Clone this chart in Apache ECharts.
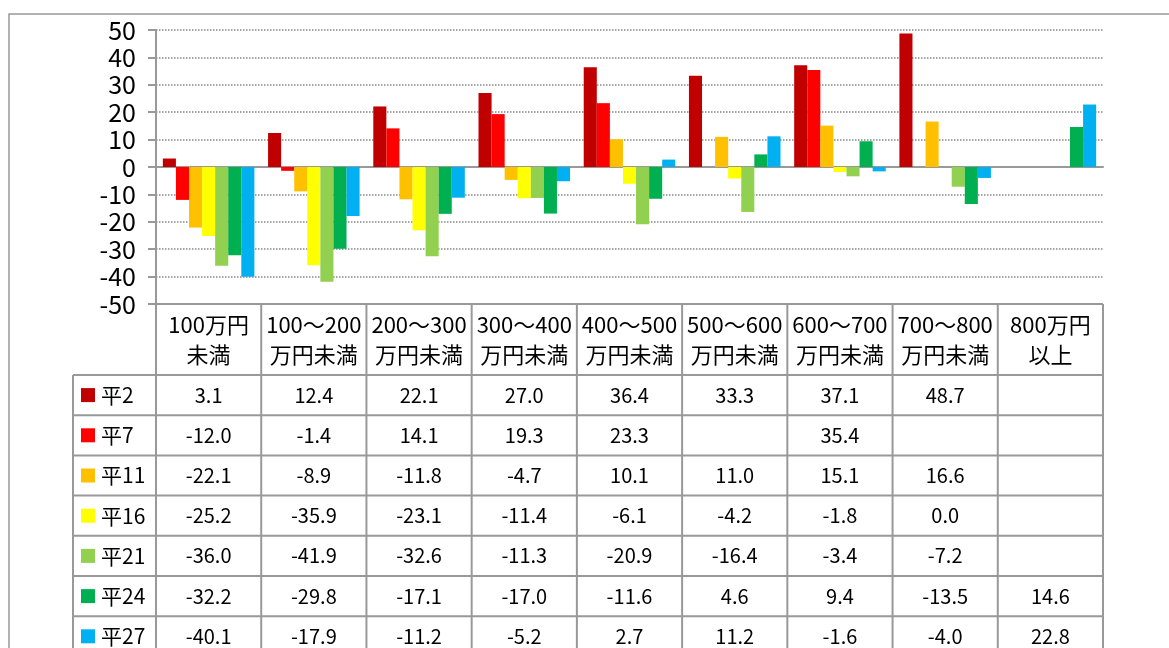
<!DOCTYPE html>
<html>
<head>
<meta charset="utf-8">
<script src="https://cdn.jsdelivr.net/npm/echarts@6/dist/echarts.min.js"></script>
<style>
  html, body { margin: 0; padding: 0; background: #fff; }
  #chart { width: 1169px; height: 648px; }
</style>
</head>
<body>
<div id="chart"></div>
<script>
// categories (income brackets) and one array per survey year
const categories = ['100万円\n未満', '100～200\n万円未満', '200～300\n万円未満', '300～400\n万円未満',
  '400～500\n万円未満', '500～600\n万円未満', '600～700\n万円未満', '700～800\n万円未満', '800万円\n以上'];
const seriesNames = ['平2', '平7', '平11', '平16', '平21', '平24', '平27'];
const seriesColors = ['#C00000', '#FF0000', '#FFC000', '#FFFF00', '#92D050', '#00B050', '#00B0F0'];

const h2  = [3.1, 12.4, 22.1, 27.0, 36.4, 33.3, 37.1, 48.7, null];
const h7  = [-12.0, -1.4, 14.1, 19.3, 23.3, null, 35.4, null, null];
const h11 = [-22.1, -8.9, -11.8, -4.7, 10.1, 11.0, 15.1, 16.6, null];
const h16 = [-25.2, -35.9, -23.1, -11.4, -6.1, -4.2, -1.8, 0.0, null];
const h21 = [-36.0, -41.9, -32.6, -11.3, -20.9, -16.4, -3.4, -7.2, null];
const h24 = [-32.2, -29.8, -17.1, -17.0, -11.6, 4.6, 9.4, -13.5, 14.6];
const h27 = [-40.1, -17.9, -11.2, -5.2, 2.7, 11.2, -1.6, -4.0, 22.8];
const seriesData = [h2, h7, h11, h16, h21, h24, h27];

const yMin = -50, yMax = 50, yStep = 10;

const FONT = '"Noto Sans CJK JP", "Noto Sans", sans-serif';
const LINE = '#999';

const chart = echarts.init(document.getElementById('chart'));

chart.setOption({
  animation: false,
  grid: { left: 156, right: 66, top: 30, bottom: 344 },
  xAxis: {
    type: 'category',
    data: categories,
    axisLine: { show: true, onZero: true, lineStyle: { color: LINE, width: 2 } },
    axisTick: { show: false },
    axisLabel: { show: false },
    splitLine: { show: false }
  },
  yAxis: {
    type: 'value',
    min: yMin, max: yMax, interval: yStep,
    axisLine: { show: true, lineStyle: { color: LINE, width: 2 } },
    axisTick: { show: true, length: 8, lineStyle: { color: LINE, width: 2 } },
    axisLabel: { color: '#000', fontSize: 25, fontFamily: FONT, margin: 20 },
    splitLine: { show: true, lineStyle: { color: '#888', type: 'dotted', width: 1.5 } }
  },
  series: seriesNames.map((name, i) => ({
    name: name,
    type: 'bar',
    data: seriesData[i],
    barGap: '0%',
    barCategoryGap: '13%',
    itemStyle: { color: seriesColors[i] }
  }))
});

// data table under the plot, positioned from the axes
function buildTable() {
  const p0 = chart.convertToPixel({ gridIndex: 0 }, [0, yMin]);
  const p1 = chart.convertToPixel({ gridIndex: 0 }, [1, yMin]);
  const band = p1[0] - p0[0];
  const left = p0[0] - band / 2;
  const right = left + band * categories.length;
  const top = p0[1];
  const headerH = 71;
  const rowH = 40.2;
  const keyLeft = 73;
  const bottom = top + headerH + rowH * seriesNames.length;
  const els = [];

  els.push({ type: 'rect', shape: { x: 9, y: 14, width: 1300, height: 800 },
    style: { fill: 'none', stroke: LINE, lineWidth: 1.5 }, silent: true });

  // horizontal lines
  els.push({ type: 'line', shape: { x1: left, y1: top, x2: right, y2: top },
    style: { stroke: LINE, lineWidth: 2 } });
  for (let r = 0; r <= seriesNames.length; r++) {
    const y = top + headerH + rowH * r;
    els.push({ type: 'line', shape: { x1: keyLeft, y1: y, x2: right, y2: y },
      style: { stroke: LINE, lineWidth: 2 } });
  }
  // vertical lines
  els.push({ type: 'line', shape: { x1: keyLeft, y1: top + headerH, x2: keyLeft, y2: bottom },
    style: { stroke: LINE, lineWidth: 2 } });
  for (let c = 0; c <= categories.length; c++) {
    const x = left + band * c;
    els.push({ type: 'line', shape: { x1: x, y1: top, x2: x, y2: bottom },
      style: { stroke: LINE, lineWidth: 2 } });
  }
  // header
  categories.forEach((cat, c) => {
    els.push({ type: 'text', style: {
      text: cat, x: left + band * (c + 0.5), y: top + headerH / 2,
      textAlign: 'center', textVerticalAlign: 'middle',
      font: '22px ' + FONT, lineHeight: 30, fill: '#000' } });
  });
  // rows
  seriesNames.forEach((name, r) => {
    const cy = top + headerH + rowH * (r + 0.5);
    els.push({ type: 'rect', shape: { x: 81, y: cy - 7, width: 14, height: 14 },
      style: { fill: seriesColors[r] } });
    els.push({ type: 'text', style: {
      text: name, x: 101, y: cy, textAlign: 'left', textVerticalAlign: 'middle',
      font: '21px ' + FONT, fill: '#000' } });
    seriesData[r].forEach((v, c) => {
      if (v === null) return;
      els.push({ type: 'text', style: {
        text: v.toFixed(1), x: left + band * (c + 0.5), y: cy,
        textAlign: 'center', textVerticalAlign: 'middle',
        font: '20px ' + FONT, fill: '#000' } });
    });
  });

  chart.setOption({ graphic: { elements: els } });
}
buildTable();
</script>
</body>
</html>
